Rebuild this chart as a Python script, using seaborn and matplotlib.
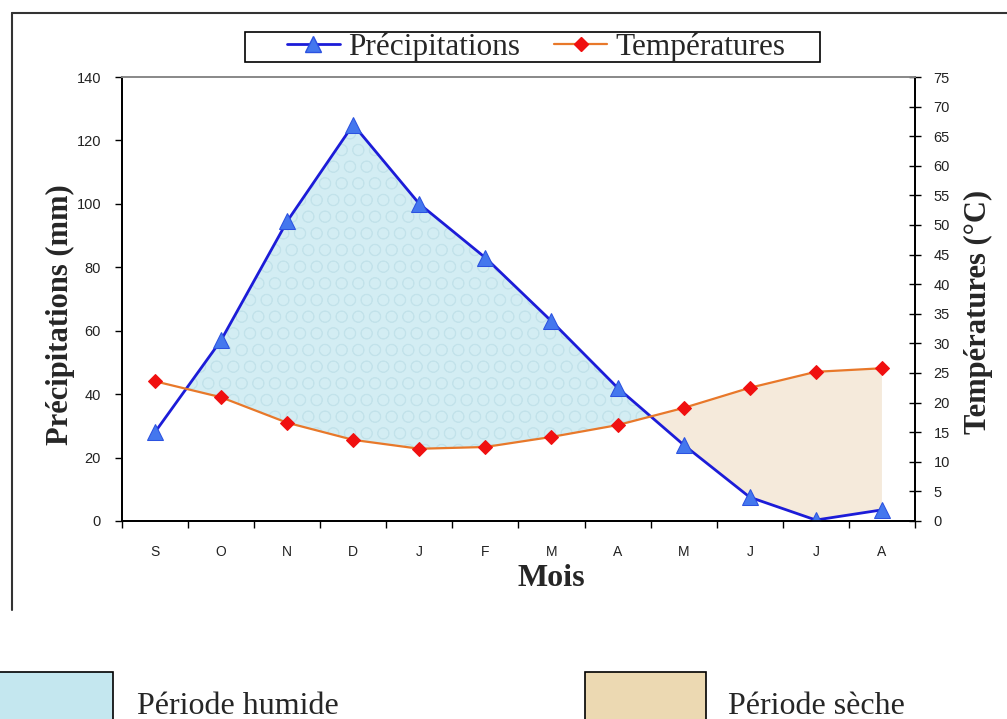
import numpy as np
import pandas as pd
import seaborn as sns
import matplotlib.pyplot as plt
from matplotlib.lines import Line2D
from matplotlib.patches import Rectangle

mois = ['S', 'O', 'N', 'D', 'J', 'F', 'M', 'A', 'M', 'J', 'J', 'A']
precip = [28, 57, 94.5, 125, 100, 83, 63, 42, 24, 7.5, 0.3, 3.5]
temp = [23.6, 20.9, 16.6, 13.7, 12.2, 12.5, 14.2, 16.2, 19.1, 22.5, 25.2, 25.8]

df = pd.DataFrame({'idx': np.arange(len(mois)), 'mois': mois,
                   'precip': precip, 'temp': temp})

sns.set_style('ticks')
plt.rcParams['font.family'] = ['Liberation Sans', 'DejaVu Sans']
plt.rcParams['hatch.linewidth'] = 0.5
serif = ['Liberation Serif', 'DejaVu Serif']

fig = plt.figure(figsize=(10.07, 7.19), dpi=100)
ax = fig.add_axes([0.1211, 0.2754, 0.7875, 0.6175])
ax2 = ax.twinx()

ax.set_xlim(-0.5, 11.5)
ax.set_ylim(0, 140)
ax2.set_ylim(0, 75)

# température ramenée sur l'échelle des précipitations pour le remplissage
x = df['idx'].values
p = df['precip'].values
t_left = df['temp'].values * 140 / 75

humide = p >= t_left
seche = (t_left >= p) & (x >= 7)
ax.fill_between(x, p, t_left, where=humide, interpolate=True,
                facecolor='#d3edf3', edgecolor='#c2e2ea', hatch='O', lw=0, zorder=1)
ax.fill_between(x, p, t_left, where=seche, interpolate=True,
                facecolor='#f5eadb', edgecolor='none', lw=0, zorder=1)

sns.lineplot(data=df, x='idx', y='precip', ax=ax, color='#1c1cd8', lw=2,
             marker='^', markersize=11, markerfacecolor='#4477ee',
             markeredgecolor='#2b52e0', zorder=3)
sns.lineplot(data=df, x='idx', y='temp', ax=ax2, color='#e8782a', lw=1.6,
             marker='D', markersize=7, markerfacecolor='#f01010',
             markeredgecolor='#f01010', zorder=3)

ax.set_xlabel('')
ax.set_ylabel('')
ax2.set_ylabel('')

ax.set_xticks(x)
ax.set_xticklabels(mois)
ax.set_xticks(np.arange(-0.5, 12, 1), minor=True)
ax.tick_params(axis='x', which='major', length=0, pad=17, labelsize=10,
               labelcolor='#222222')
ax.tick_params(axis='x', which='minor', length=5, width=1, direction='out',
               color='black')
ax.set_yticks(np.arange(0, 141, 20))
ax.tick_params(axis='y', which='both', direction='out', length=5, width=1,
               pad=10, labelsize=10.5, labelcolor='#222222', color='black')
ax.yaxis.set_minor_locator(plt.NullLocator())
ax2.set_yticks(np.arange(0, 76, 5))
ax2.tick_params(axis='y', direction='inout', length=9, width=1, pad=9,
                labelsize=10.5, labelcolor='#222222', color='black')

for a in (ax, ax2):
    for s in a.spines.values():
        s.set_visible(True)
        s.set_color('black')
        s.set_linewidth(1.3)
    a.spines['top'].set_color('#8a8a8a')

# légende du haut (cadre dessiné à part)
handles = [
    Line2D([], [], color='#1c1cd8', lw=2, marker='^', markersize=11,
           markerfacecolor='#4477ee', markeredgecolor='#2b52e0'),
    Line2D([], [], color='#e8782a', lw=1.6, marker='D', markersize=7,
           markerfacecolor='#f01010', markeredgecolor='#f01010'),
]
fig.legend(handles, ['Précipitations', 'Températures'], ncol=2,
           loc='center', bbox_to_anchor=(536 / 1007, 1 - 47 / 719),
           prop={'family': serif, 'size': 22.5}, frameon=False,
           handlelength=1.7, handletextpad=0.26, columnspacing=1.1,
           borderpad=0.1)
fig.add_artist(Rectangle((245 / 1007, 1 - 62 / 719), 575 / 1007, 30 / 719,
                         transform=fig.transFigure, facecolor='none',
                         edgecolor='black', lw=1.2))

# titres des axes
fig.text(0.0596, 0.5619, 'Précipitations (mm)', rotation=90, ha='center',
         va='center', family=serif, weight='bold', fontsize=22)
fig.text(0.972, 0.566, 'Températures (°C)', rotation=90, ha='center',
         va='center', family=serif, weight='bold', fontsize=22)
fig.text(0.547, 1 - 578 / 719, 'Mois', ha='center', va='center', family=serif,
         weight='bold', fontsize=23)

# cadre extérieur
fig.add_artist(Line2D([12 / 1007, 12 / 1007], [1 - 610 / 719, 1 - 13 / 719],
                      transform=fig.transFigure, color='#333333', lw=1.5))
fig.add_artist(Line2D([12 / 1007, 1], [1 - 13 / 719, 1 - 13 / 719],
                      transform=fig.transFigure, color='#333333', lw=1.5))

# légende du bas
fig.add_artist(Rectangle((-0.01, -0.01), 0.01 + 113 / 1007, 0.01 + 47 / 719,
                         transform=fig.transFigure, facecolor='#c4e7ef',
                         edgecolor='black', lw=1.2))
fig.add_artist(Rectangle((585 / 1007, -0.01), 121 / 1007, 0.01 + 47 / 719,
                         transform=fig.transFigure, facecolor='#ecd9b2',
                         edgecolor='black', lw=1.2))
fig.text(137 / 1007, 1 - 714 / 719, 'Période humide', ha='left',
         va='baseline', family=serif, fontsize=23)
fig.text(728 / 1007, 1 - 714 / 719, 'Période sèche', ha='left',
         va='baseline', family=serif, fontsize=23)

fig.savefig('out.png', dpi=100)
